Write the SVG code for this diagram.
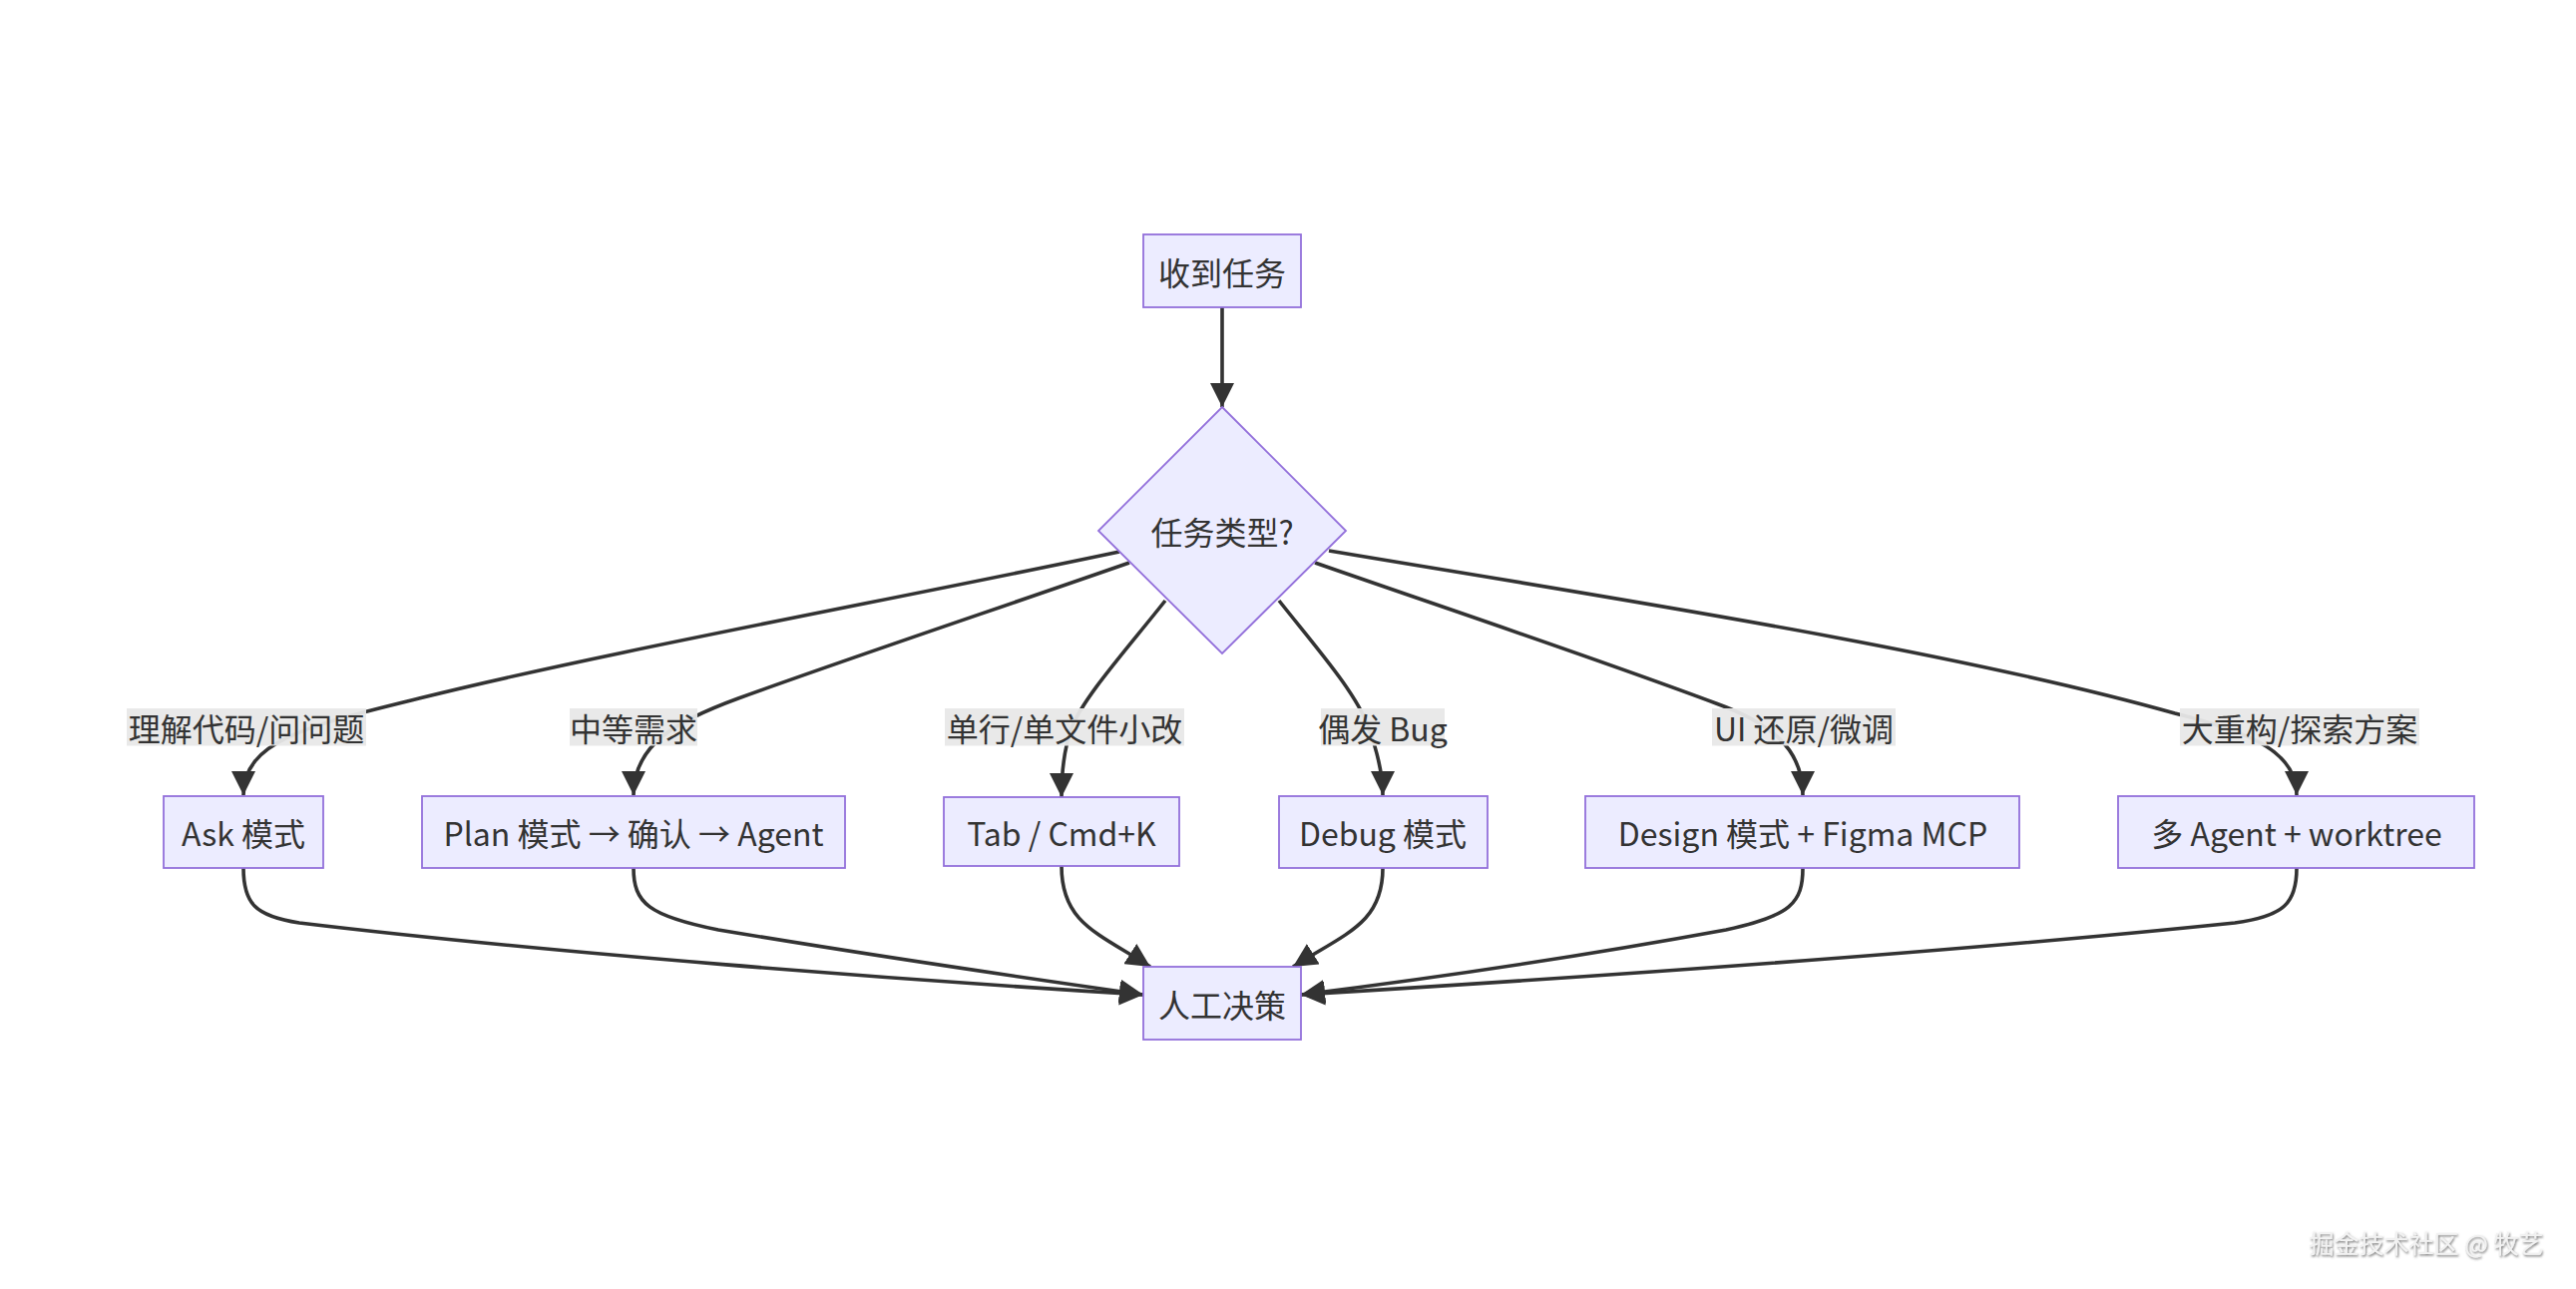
<svg xmlns="http://www.w3.org/2000/svg" width="2582" height="1292" viewBox="0 0 2582 1292">
<style>
.node{fill:#ECECFF;stroke:#9370DB;stroke-width:1.8}
.txt{font-family:"Noto Sans CJK SC","Noto Sans",sans-serif;font-size:32px;fill:#333;text-anchor:middle;dominant-baseline:central}
.edge{fill:none;stroke:#333;stroke-width:3.6}
.lbg{fill:#e8e8e8;opacity:0.95}
.wm{font-family:"Noto Sans CJK SC","Noto Sans",sans-serif;font-size:25px;fill:#f2f2f2;text-anchor:middle;dominant-baseline:central}
</style>
<defs>
<marker id="arrow" markerUnits="userSpaceOnUse" viewBox="0 0 24 24" refX="24" refY="12" markerWidth="24" markerHeight="24" orient="auto">
<path d="M0,0 L24,12 L0,24 z" fill="#333"/>
</marker>
<filter id="shadow" x="-10%" y="-30%" width="120%" height="160%">
<feDropShadow dx="1" dy="1.5" stdDeviation="0.8" flood-color="#666" flood-opacity="0.9"/>
</filter>
</defs>
<rect width="2582" height="1292" fill="#fff"/>
<g id="connectors">
<path class="edge" marker-end="url(#arrow)" d="M1225,308 L1225,408"/>
<path class="edge" marker-end="url(#arrow)" d="M1122,553 C900,600 600,655 420,700 C310,727 244,742 244,797"/>
<path class="edge" marker-end="url(#arrow)" d="M1132,564 C1000,610 850,660 740,700 C680,722 635,745 635,797"/>
<path class="edge" marker-end="url(#arrow)" d="M1168,602 C1130,650 1085,700 1074,730 C1066,752 1064,775 1064,799"/>
<path class="edge" marker-end="url(#arrow)" d="M1282,602 C1320,650 1360,695 1372,730 C1380,752 1386,775 1386,797"/>
<path class="edge" marker-end="url(#arrow)" d="M1318,564 C1450,610 1600,660 1720,705 C1775,725 1807,750 1807,797"/>
<path class="edge" marker-end="url(#arrow)" d="M1332,552 C1600,597 1950,650 2180,715 C2260,735 2302,755 2302,797"/>
<path class="edge" marker-end="url(#arrow)" d="M244,870 C244,905 255,918 300,925 C550,955 900,982 1146,997"/>
<path class="edge" marker-end="url(#arrow)" d="M635,870 C635,905 650,918 720,932 C900,962 1040,982 1146,997"/>
<path class="edge" marker-end="url(#arrow)" d="M1064,868 C1064,925 1100,935 1153,969"/>
<path class="edge" marker-end="url(#arrow)" d="M1386,870 C1386,925 1350,935 1296,969"/>
<path class="edge" marker-end="url(#arrow)" d="M1807,870 C1807,905 1795,918 1730,932 C1550,965 1400,985 1304,997"/>
<path class="edge" marker-end="url(#arrow)" d="M2302,870 C2302,905 2290,918 2240,925 C1950,955 1550,982 1304,997"/>
</g>
<g id="edge-labels">
<g id="label-ask"><rect class="lbg" x="127" y="710" width="240" height="37.5"/><text class="txt" x="247" y="729">理解代码/问问题</text></g>
<g id="label-plan"><rect class="lbg" x="571" y="710" width="128" height="37.5"/><text class="txt" x="635" y="729">中等需求</text></g>
<g id="label-tab"><rect class="lbg" x="947" y="710" width="240" height="37.5"/><text class="txt" x="1067" y="729">单行/单文件小改</text></g>
<g id="label-debug"><rect class="lbg" x="1324" y="710" width="124" height="37.5"/><text class="txt" x="1386" y="729">偶发 Bug</text></g>
<g id="label-design"><rect class="lbg" x="1716" y="710" width="184" height="37.5"/><text class="txt" x="1808" y="729">UI 还原/微调</text></g>
<g id="label-multi"><rect class="lbg" x="2185" y="710" width="240" height="37.5"/><text class="txt" x="2305" y="729">大重构/探索方案</text></g>
</g>
<g id="node-start"><rect class="node" x="1146" y="235" width="158" height="73"/><text class="txt" x="1225" y="271.5">收到任务</text></g>
<g id="node-type"><polygon class="node" points="1225,408 1349,532 1225,655 1101,532"/><text class="txt" x="1225" y="532">任务类型?</text></g>
<g id="node-ask"><rect class="node" x="164" y="798" width="160" height="72"/><text class="txt" x="244" y="834">Ask 模式</text></g>
<g id="node-plan"><rect class="node" x="423" y="798" width="424" height="72"/><text class="txt" x="635" y="834">Plan 模式 → 确认 → Agent</text></g>
<g id="node-tab"><rect class="node" x="946" y="799" width="236" height="69"/><text class="txt" x="1064" y="833.5">Tab / Cmd+K</text></g>
<g id="node-debug"><rect class="node" x="1282" y="798" width="209" height="72"/><text class="txt" x="1386" y="834">Debug 模式</text></g>
<g id="node-design"><rect class="node" x="1589" y="798" width="435" height="72"/><text class="txt" x="1807" y="834">Design 模式 + Figma MCP</text></g>
<g id="node-multi"><rect class="node" x="2123" y="798" width="357" height="72"/><text class="txt" x="2302" y="834">多 Agent + worktree</text></g>
<g id="node-decide"><rect class="node" x="1146" y="969" width="158" height="73"/><text class="txt" x="1225" y="1005.5">人工决策</text></g>
<text class="wm" x="2432" y="1245" filter="url(#shadow)">掘金技术社区 @ 牧艺</text>
</svg>
